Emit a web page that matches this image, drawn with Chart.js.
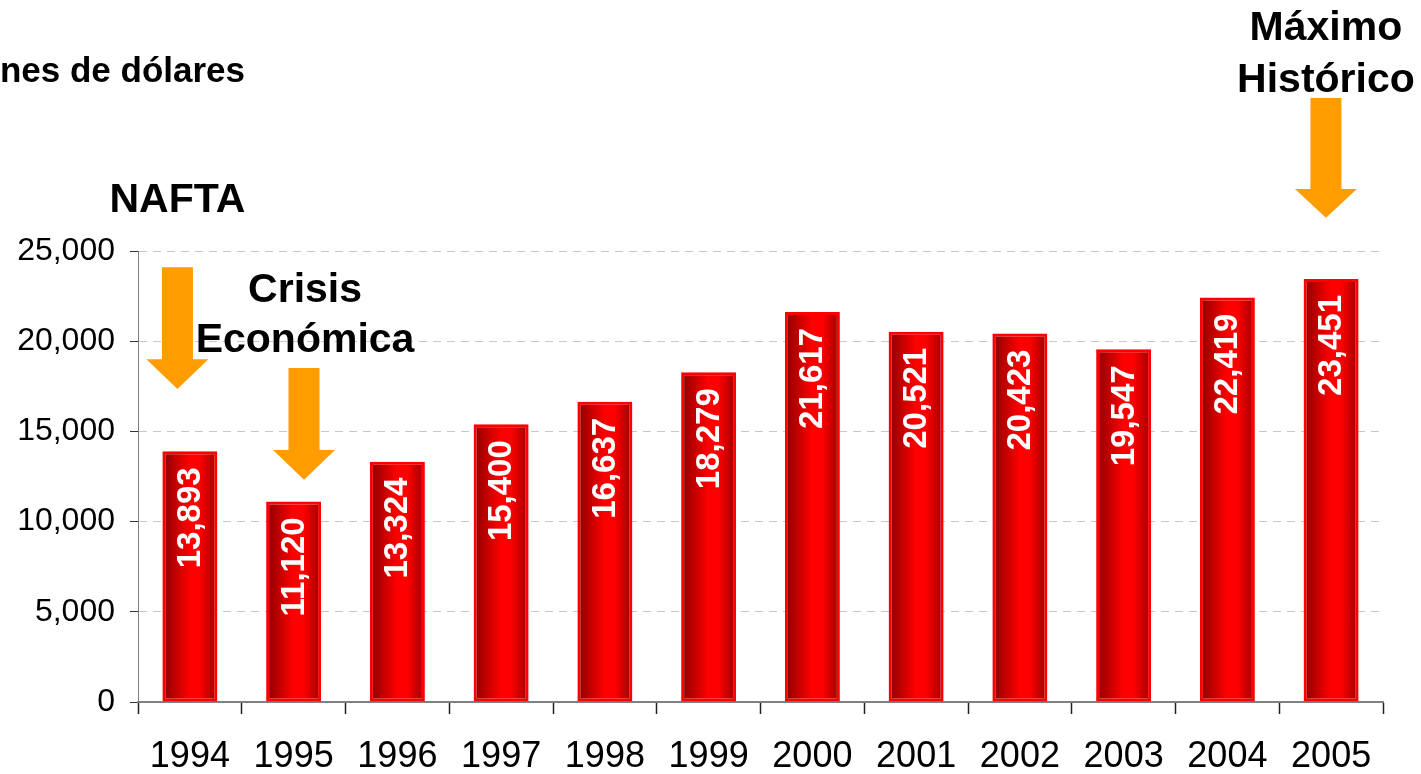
<!DOCTYPE html>
<html>
<head>
<meta charset="utf-8">
<script src="https://cdn.jsdelivr.net/npm/chart.js@4.4.1/dist/chart.umd.min.js"></script>
<style>
    html, body { margin: 0; padding: 0; background: #fff; }
    #wrap { width: 1421px; height: 774px; position: relative; }
</style>
</head>
<body>
<div id="wrap"><canvas id="myChart"></canvas></div>
<script>
// datos (millones de dolares)
const years = ['1994', '1995', '1996', '1997', '1998', '1999', '2000', '2001', '2002', '2003', '2004', '2005'];
const values = [13893, 11120, 13324, 15400, 16637, 18279, 21617, 20521, 20423, 19547, 22419, 23451];
const yTicks = [0, 5000, 10000, 15000, 20000, 25000];

// anotaciones: categoria + desplazamiento (en fraccion de categoria), alturas en unidades del eje
const arrows = [
    { cat: 0, shift: -0.12, top: 24100, neck: 19000, tip: 17350 },
    { cat: 1, shift: 0.10, top: 18520, neck: 13970, tip: 12320 },
    { cat: 11, shift: -0.05, top: 33480, neck: 28430, tip: 26840 }
];
const notes = [
    { text: 'NAFTA', cat: 0, shift: -0.12, at: 27150 },
    { text: 'Crisis', cat: 1, shift: 0.11, at: 22170 },
    { text: 'Económica', cat: 1, shift: 0.11, at: 19400 },
    { text: 'Máximo', cat: 11, shift: -0.05, at: 36700 },
    { text: 'Histórico', cat: 11, shift: -0.05, at: 33810 }
];
const unitsLabel = 'Millones de dólares';

const BAR_PCT = 0.53;
const fmt = v => v.toLocaleString('en-US');

// degradado horizontal por barra (oscuro - rojo vivo - oscuro)
function barFill(c) {
    const chart = c.chart;
    const xs = chart.scales.x;
    if (!xs || !chart.chartArea) return '#d00000';
    const w = xs.width / years.length * BAR_PCT;
    const x0 = xs.getPixelForValue(c.dataIndex) - w / 2;
    const g = chart.ctx.createLinearGradient(x0, 0, x0 + w, 0);
    g.addColorStop(0, '#8a0000');
    g.addColorStop(0.5, '#ff0000');
    g.addColorStop(0.68, '#ff0000');
    g.addColorStop(1, '#9a0000');
    return g;
}

const barLabels = {
    id: 'barLabels',
    afterDatasetsDraw(chart) {
        const ctx = chart.ctx;
        ctx.save();
        ctx.fillStyle = '#ffffff';
        ctx.font = 'bold 33px "Liberation Sans", Arial, sans-serif';
        ctx.textAlign = 'right';
        ctx.textBaseline = 'middle';
        chart.getDatasetMeta(0).data.forEach((bar, i) => {
            ctx.save();
            ctx.translate(bar.x + 1, bar.y + 16);
            ctx.rotate(-Math.PI / 2);
            ctx.fillText(fmt(values[i]), 0, 0);
            ctx.restore();
        });
        ctx.restore();
    }
};

const notesPlugin = {
    id: 'notes',
    afterDraw(chart) {
        const ctx = chart.ctx;
        const xs = chart.scales.x;
        const ys = chart.scales.y;
        const step = xs.width / years.length;
        ctx.save();

        ctx.fillStyle = '#ff9c00';
        arrows.forEach(a => {
            const cx = xs.getPixelForValue(a.cat) + a.shift * step;
            const yt = ys.getPixelForValue(a.top);
            const yn = ys.getPixelForValue(a.neck);
            const yp = ys.getPixelForValue(a.tip);
            ctx.beginPath();
            ctx.moveTo(cx - 15.5, yt);
            ctx.lineTo(cx + 15.5, yt);
            ctx.lineTo(cx + 15.5, yn);
            ctx.lineTo(cx + 31, yn);
            ctx.lineTo(cx, yp);
            ctx.lineTo(cx - 31, yn);
            ctx.lineTo(cx - 15.5, yn);
            ctx.closePath();
            ctx.fill();
        });

        ctx.fillStyle = '#000';
        ctx.textAlign = 'center';
        ctx.textBaseline = 'alphabetic';
        ctx.font = 'bold 41px "Liberation Sans", Arial, sans-serif';
        notes.forEach(n => {
            const cx = xs.getPixelForValue(n.cat) + n.shift * step;
            ctx.fillText(n.text, cx, ys.getPixelForValue(n.at));
        });

        ctx.font = 'bold 35px "Liberation Sans", Arial, sans-serif';
        ctx.textAlign = 'right';
        ctx.fillText(unitsLabel, 245, 82);
        ctx.restore();
    }
};

new Chart(document.getElementById('myChart'), {
    type: 'bar',
    data: {
        labels: years,
        datasets: [{
            data: values,
            backgroundColor: barFill,
            borderColor: '#ff0000',
            borderWidth: 3,
            borderSkipped: false,
            categoryPercentage: 1,
            barPercentage: BAR_PCT
        }]
    },
    options: {
        responsive: true,
        maintainAspectRatio: false,
        animation: false,
        layout: { padding: { top: 251, right: 38, left: 0, bottom: 0 } },
        plugins: {
            legend: { display: false },
            tooltip: { enabled: false }
        },
        scales: {
            x: {
                offset: true,
                grid: {
                    offset: true,
                    drawOnChartArea: false,
                    tickLength: 12,
                    tickColor: '#222',
                    tickWidth: 1.5
                },
                border: { color: '#808080', width: 2 },
                ticks: {
                    color: '#000',
                    padding: 21,
                    font: { family: '"Liberation Sans", Arial, sans-serif', size: 36 }
                },
                afterFit(s) { s.height = 72; }
            },
            y: {
                min: 0,
                max: 25000,
                afterBuildTicks(s) { s.ticks = yTicks.map(v => ({ value: v })); },
                grid: {
                    color: '#c8c8c8',
                    tickLength: 8,
                    tickColor: '#333',
                    tickBorderDash: []
                },
                border: { color: '#808080', width: 1, dash: [8, 6] },
                ticks: {
                    color: '#000',
                    padding: 15,
                    font: { family: '"Liberation Sans", Arial, sans-serif', size: 32 },
                    callback: v => fmt(v)
                },
                afterFit(s) { s.width = 138; }
            }
        }
    },
    plugins: [barLabels, notesPlugin]
});
</script>
</body>
</html>
